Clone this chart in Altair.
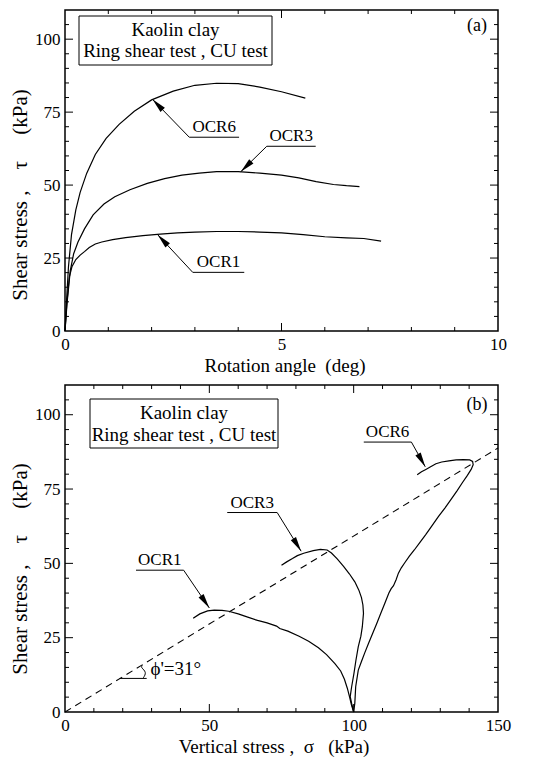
import math
import altair as alt
import pandas as pd

FONT = "Liberation Serif"
NB = "\u00a0"

# ---------------- Panel (a): shear stress vs rotation angle ----------------
a_ocr6_x = [0.0, 0.03, 0.08, 0.15, 0.25, 0.35, 0.5, 0.7, 0.95, 1.25, 1.6, 2.0, 2.5, 3.0, 3.5, 4.0, 4.5, 5.0, 5.55]
a_ocr6_tau = [0, 9, 22, 33, 41.5, 47.5, 54, 60.5, 66.0, 70.8, 75.3, 79.2, 82.2, 84.2, 84.9, 84.8, 83.6, 82.0, 79.8]

a_ocr3_x = [0.0, 0.05, 0.12, 0.2, 0.3, 0.45, 0.65, 0.9, 1.15, 1.5, 1.9, 2.3, 2.7, 3.1, 3.5, 4.0, 4.5, 5.0, 5.4, 5.8, 6.2, 6.5, 6.8]
a_ocr3_tau = [0, 10, 20.5, 26.5, 30.5, 35.0, 39.8, 43.5, 46.0, 48.4, 50.6, 52.2, 53.4, 54.1, 54.6, 54.6, 54.1, 53.4, 52.5, 51.2, 50.2, 49.8, 49.5]

a_ocr1_x = [0.0, 0.04, 0.1, 0.16, 0.25, 0.35, 0.45, 0.56, 0.7, 0.85, 1.1, 1.4, 1.8, 2.2, 2.6, 3.0, 3.5, 4.0, 4.5, 5.0, 5.5, 6.0, 6.5, 6.9, 7.3]
a_ocr1_tau = [0, 9, 18.5, 22, 24.5, 26, 27.2, 28.6, 29.8, 30.5, 31.3, 32, 32.7, 33.2, 33.6, 33.9, 34.1, 34.1, 33.9, 33.6, 33.0, 32.3, 31.9, 31.7, 30.8]

a_ann_label = ["OCR6", "OCR3", "OCR1"]
a_ann_tip_x = [2.02, 4.06, 2.14]
a_ann_tip_tau = [79.4, 54.6, 33.0]
a_ann_tail_x = [2.87, 4.66, 2.95]
a_ann_line_start = [2.87, 4.66, 2.95]
a_ann_line_end = [4.02, 5.79, 4.14]
a_ann_line_tau = [66.4, 63.3, 20.1]

# ---------------- Panel (b): stress paths ----------------
b_ocr1_sigma = [100.0, 99.2, 98.6, 97.8, 96.8, 95.5, 93.5, 90.6, 87.8, 84.4, 81.1, 77.2, 74.4, 73.3, 70.0, 66.7, 63.3, 60.0, 56.7, 54.4, 51.7, 49.4, 46.7, 44.4]
b_ocr1_tau = [0.0, 2.5, 5.0, 8.0, 11.0, 13.8, 16.3, 19.3, 21.6, 23.8, 25.5, 27.2, 28.1, 28.9, 30.0, 30.8, 31.9, 33.0, 33.9, 34.2, 34.3, 34.0, 33.0, 31.5]

b_ocr3_sigma = [100.0, 99.3, 98.8, 99.3, 100.1, 100.8, 101.6, 102.5, 103.0, 103.4, 103.2, 102.7, 101.8, 100.4, 98.5, 96.5, 94.3, 92.3, 90.8, 88.5, 86.0, 82.7, 80.5, 78.8, 76.8, 75.0]
b_ocr3_tau = [0.0, 2.9, 5.2, 8.5, 13.0, 17.5, 22.0, 25.5, 28.7, 33.2, 36.0, 38.5, 41.0, 43.8, 46.5, 49.0, 51.5, 53.5, 54.5, 54.7, 54.3, 53.4, 52.6, 51.6, 50.5, 49.4]

b_ocr6_sigma = [100.0, 100.4, 100.7, 101.6, 102.7, 103.8, 105.2, 106.6, 108.0, 109.4, 110.8, 112.2, 113.0, 113.8, 114.7, 115.5, 116.5, 117.7, 119.3, 121.0, 122.9, 124.9, 127.1, 129.4, 131.6, 133.8, 135.8, 137.7, 139.4, 140.7, 141.4, 141.2, 140.2, 138.0, 135.5, 133.0, 130.5, 128.5, 126.5, 125.0, 123.5, 122.0]
b_ocr6_tau = [0.0, 3.0, 8.5, 14.1, 17.0, 19.8, 23.2, 26.5, 29.8, 33.2, 36.6, 40.0, 41.5, 42.5, 44.5, 46.7, 48.5, 50.2, 52.4, 54.5, 57.0, 59.6, 62.6, 65.8, 68.6, 71.6, 74.4, 77.2, 79.6, 81.6, 83.2, 84.3, 84.8, 84.9, 84.8, 84.5, 84.1, 83.5, 82.4, 81.6, 80.8, 79.8]

b_envelope_sigma = [0.0, 150.0]
b_envelope_tau = [0.0, 88.8]

b_ann_label = ["OCR1", "OCR3", "OCR6"]
b_ann_tip_x = [50.0, 81.8, 124.8]
b_ann_tip_tau = [35.0, 54.1, 82.5]
b_ann_tail_x = [41.1, 73.5, 120.0]
b_ann_line_start = [24.6, 56.2, 103.5]
b_ann_line_end = [41.1, 73.5, 120.0]
b_ann_line_tau = [47.7, 67.1, 90.8]

b_angle_mark_sigma = [26.8, 26.2, 28.4, 27.0]
b_angle_mark_tau = [15.6, 15.0, 13.4, 11.3]
b_angle_base_sigma = [18.9, 28.3]
b_angle_base_tau = [11.3, 11.3]
b_angle_text = "\u03d5'=31\u00b0"
b_angle_text_pos = [29.6, 11.0]

box_lines = ["Kaolin clay", "Ring shear test , CU test"]
tau_labels = [0, 25, 50, 75, 100]
tau_ticks_major = [25, 50, 75, 100]
tau_ticks_minor = [v for v in range(5, 110, 5) if v % 25 != 0]
a_x_labels = [0, 5, 10]
a_x_major = [5]
a_x_minor = [1, 2, 3, 4, 6, 7, 8, 9]
b_x_labels = [0, 50, 100, 150]
b_x_major = [50, 100]
b_x_minor = [10, 20, 30, 40, 60, 70, 80, 90, 110, 120, 130, 140]

W = 433
HA = 321
HB = 327
YDOM = [0, 110]
HEAD = "M0,0L0.5,2.4L-0.5,2.4Z"

YTITLE = "Shear stress ," + NB * 4 + "\u03c4" + NB * 5 + "(kPa)"


def sc(dom):
    return alt.Scale(domain=dom, nice=False, zero=False)


def curves_df(pairs):
    frames = []
    for name, xs, ys in pairs:
        frames.append(pd.DataFrame({"x": xs, "y": ys, "i": list(range(len(xs))), "c": name}))
    return pd.concat(frames, ignore_index=True)


class P:
    def __init__(self, xdom, xlabels, xtitle, H, title_x, title_y):
        self.xdom = xdom
        self.H = H
        self.xs = sc(xdom)
        self.ys = sc(YDOM)
        self.xax = alt.Axis(values=xlabels, title=xtitle, format="d", titleFontSize=19, titleX=title_x)
        self.yax = alt.Axis(values=tau_labels, title=YTITLE, format="d", titleFontSize=21, titleY=title_y)

    def X(self, f):
        return alt.X(f, scale=self.xs, axis=self.xax)

    def Y(self, f):
        return alt.Y(f, scale=self.ys, axis=self.yax)


def tick_layers(p, xmaj, xmin):
    out = []
    H = p.H
    for vals, L in [(xmaj, 8), (xmin, 4)]:
        d = pd.DataFrame({"v": vals})
        base = alt.Chart(d).mark_rule(color="black", strokeWidth=1)
        out.append(base.encode(x=p.X("v:Q"), y=alt.value(H), y2=alt.value(H - L)))
        out.append(base.encode(x=p.X("v:Q"), y=alt.value(0), y2=alt.value(L)))
    for vals, L in [(tau_ticks_major, 8), (tau_ticks_minor, 4)]:
        d = pd.DataFrame({"v": vals})
        base = alt.Chart(d).mark_rule(color="black", strokeWidth=1)
        out.append(base.encode(y=p.Y("v:Q"), x=alt.value(0), x2=alt.value(L)))
        out.append(base.encode(y=p.Y("v:Q"), x=alt.value(W), x2=alt.value(W - L)))
    return out


def ann_layers(p, labels, tipx, tipy, tailx, l1, l2, ly):
    pxx = W / (p.xdom[1] - p.xdom[0])
    pxy = p.H / (YDOM[1] - YDOM[0])
    angs = []
    for tx, ty, hx, hy in zip(tailx, ly, tipx, tipy):
        dx = (hx - tx) * pxx
        dy = -(hy - ty) * pxy
        angs.append(math.degrees(math.atan2(dx, -dy)) % 360)
    d = pd.DataFrame({
        "lab": labels, "hx": tipx, "hy": tipy, "tx": tailx, "ty": ly,
        "l1": l1, "l2": l2, "ly": ly,
        "lc": [(a + b) / 2 for a, b in zip(l1, l2)], "ang": angs,
    })
    shaft = alt.Chart(d).mark_rule(color="black", strokeWidth=1).encode(
        x=p.X("tx:Q"), x2="hx:Q", y=p.Y("ty:Q"), y2="hy:Q")
    under = alt.Chart(d).mark_rule(color="black", strokeWidth=1).encode(
        x=p.X("l1:Q"), x2="l2:Q", y=p.Y("ly:Q"))
    head = alt.Chart(d).mark_point(shape=HEAD, filled=True, color="black", opacity=1, size=150, strokeWidth=0).encode(
        x=p.X("hx:Q"), y=p.Y("hy:Q"), angle=alt.Angle("ang:Q", scale=None))
    text = alt.Chart(d).mark_text(font=FONT, fontSize=17, baseline="bottom", align="center", dy=-1, color="black").encode(
        x=p.X("lc:Q"), y=p.Y("ly:Q"), text="lab:N")
    return [shaft, under, head, text]


def box_layers(x1, x2, y1, y2, cx, cy1, cy2):
    one = pd.DataFrame({"k": [0]})
    rect = alt.Chart(one).mark_rect(fill="white", stroke="black", strokeWidth=1).encode(
        x=alt.value(x1), x2=alt.value(x2), y=alt.value(y1), y2=alt.value(y2))
    t1 = alt.Chart(one).mark_text(font=FONT, fontSize=19, align="center", baseline="middle", color="black").encode(
        x=alt.value(cx), y=alt.value(cy1), text=alt.value(box_lines[0]))
    t2 = alt.Chart(one).mark_text(font=FONT, fontSize=19, align="center", baseline="middle", color="black").encode(
        x=alt.value(cx), y=alt.value(cy2), text=alt.value(box_lines[1]))
    return [rect, t1, t2]


def tag_layer(label, x, y):
    one = pd.DataFrame({"k": [0]})
    return alt.Chart(one).mark_text(font=FONT, fontSize=18, align="center", baseline="middle", color="black").encode(
        x=alt.value(x), y=alt.value(y), text=alt.value(label))


# ---- panel a ----
pa = P([0, 10], a_x_labels, "Rotation angle" + NB * 2 + "(deg)", HA, W / 2 + 3, HA / 2 + 24)
dfa = curves_df([("OCR6", a_ocr6_x, a_ocr6_tau), ("OCR3", a_ocr3_x, a_ocr3_tau), ("OCR1", a_ocr1_x, a_ocr1_tau)])
curves_a = alt.Chart(dfa).mark_line(color="black", strokeWidth=1.2).encode(
    x=pa.X("x:Q"), y=pa.Y("y:Q"), detail="c:N", order="i:Q")

panel_a = alt.layer(
    curves_a,
    *tick_layers(pa, a_x_major, a_x_minor),
    *ann_layers(pa, a_ann_label, a_ann_tip_x, a_ann_tip_tau, a_ann_tail_x,
                a_ann_line_start, a_ann_line_end, a_ann_line_tau),
    *box_layers(14, 207, 6, 55, 110.5, 20, 41),
    tag_layer("(a)", W - 21, 16),
).properties(width=W, height=HA)

# ---- panel b ----
pb = P([0, 150], b_x_labels, "Vertical stress ," + NB * 2 + "\u03c3" + NB * 3 + "(kPa)", HB, W / 2 - 8, HB / 2 + 20)
dfb = curves_df([("OCR1", b_ocr1_sigma, b_ocr1_tau), ("OCR3", b_ocr3_sigma, b_ocr3_tau), ("OCR6", b_ocr6_sigma, b_ocr6_tau)])
curves_b = alt.Chart(dfb).mark_line(color="black", strokeWidth=1.2).encode(
    x=pb.X("x:Q"), y=pb.Y("y:Q"), detail="c:N", order="i:Q")

env = alt.Chart(pd.DataFrame({"x": b_envelope_sigma, "y": b_envelope_tau})).mark_line(
    color="black", strokeWidth=1.1, strokeDash=[7, 5]).encode(x=pb.X("x:Q"), y=pb.Y("y:Q"))

angle_mark = alt.Chart(pd.DataFrame({"x": b_angle_mark_sigma, "y": b_angle_mark_tau,
                                     "i": list(range(len(b_angle_mark_sigma)))})).mark_line(
    color="black", strokeWidth=1, interpolate="basis").encode(x=pb.X("x:Q"), y=pb.Y("y:Q"), order="i:Q")
angle_base = alt.Chart(pd.DataFrame({"x": b_angle_base_sigma, "y": b_angle_base_tau})).mark_line(
    color="black", strokeWidth=1).encode(x=pb.X("x:Q"), y=pb.Y("y:Q"))
angle_text = alt.Chart(pd.DataFrame({"x": [b_angle_text_pos[0]], "y": [b_angle_text_pos[1]], "t": [b_angle_text]})).mark_text(
    font=FONT, fontSize=19, align="left", baseline="bottom", color="black").encode(
    x=pb.X("x:Q"), y=pb.Y("y:Q"), text="t:N")

panel_b = alt.layer(
    curves_b, env, angle_mark, angle_base, angle_text,
    *tick_layers(pb, b_x_major, b_x_minor),
    *ann_layers(pb, b_ann_label, b_ann_tip_x, b_ann_tip_tau, b_ann_tail_x,
                b_ann_line_start, b_ann_line_end, b_ann_line_tau),
    *box_layers(25, 213, 14, 63, 119, 28, 50),
    tag_layer("(b)", W - 21, 20),
).properties(width=W, height=HB)

chart = alt.vconcat(panel_a, panel_b, spacing=7).properties(
    padding={"left": 0, "top": 0, "right": 0, "bottom": 0}
).configure_view(stroke="black", strokeWidth=1.5).configure_axis(
    domain=False, ticks=False, grid=False, labelFlush=False,
    labelFont=FONT, labelFontSize=17, labelColor="black", labelPadding=5,
    titleFont=FONT, titleFontWeight="normal", titleColor="black", titlePadding=4,
)

chart.save("out.html", embed_options={"renderer": "svg", "actions": False})
